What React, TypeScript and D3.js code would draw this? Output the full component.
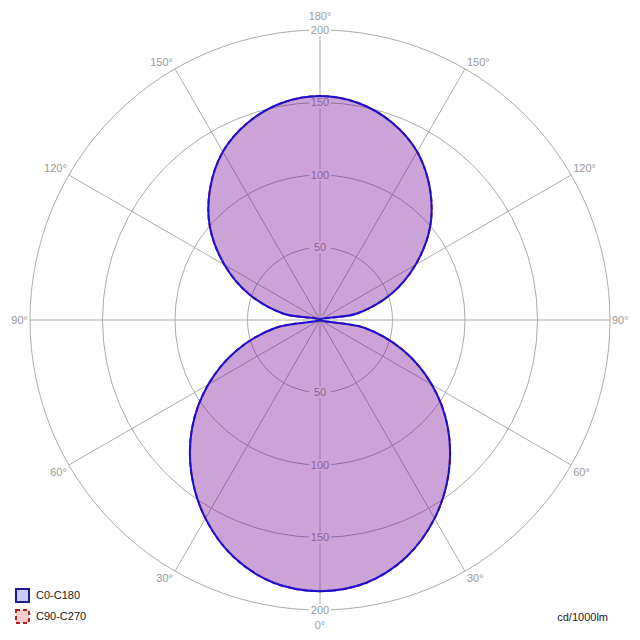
import React from "react";
import * as d3 from "d3";

// gamma angles (deg, 0 = straight down / nadir)
const gammas = [0, 10, 20, 30, 40, 50, 60, 70, 80, 90, 100, 110, 120, 130, 140, 150, 160, 170, 180];
// cd/1000lm, C0-C180 plane
const c0c180 = [187, 184, 174, 158, 138, 115, 89, 61, 31, 0, 26, 52, 76, 99, 118, 134, 145, 152, 154.5];
// cd/1000lm, C90-C270 plane
const c90c270 = [187, 184, 174, 158, 138, 115, 89, 61, 31, 0, 26, 52, 76, 99, 118, 134, 145, 152, 154.5];

const ringValues = [50, 100, 150, 200];
const angleLabels = [0, 30, 60, 90, 120, 150, 180];
const legendItems = ["C0-C180", "C90-C270"];
const unitLabel = "cd/1000lm";

const W = 640, H = 640, cx = 320, cy = 320, R = 290;
const FONT = "'Liberation Sans', Arial, sans-serif";

export default function App() {
  const r = d3.scaleLinear().domain([0, 200]).range([0, R]);

  const buildPath = (vals: number[]) => {
    const pts: [number, number][] = [];
    // right side (C0 / C90): angle = PI - gamma
    gammas.forEach((g, i) => pts.push([Math.PI - (g * Math.PI) / 180, r(vals[i])]));
    // left side (C180 / C270): angle = PI + gamma, from 180 back to 0
    for (let i = gammas.length - 2; i >= 1; i--) {
      pts.push([Math.PI + (gammas[i] * Math.PI) / 180, r(vals[i])]);
    }
    return d3
      .lineRadial<[number, number]>()
      .angle((d) => d[0])
      .radius((d) => d[1])
      .curve(d3.curveCardinalClosed.tension(0))(pts) as string;
  };

  const pathA = buildPath(c0c180);
  const pathB = buildPath(c90c270);

  const spokes = d3.range(0, 360, 30);

  const gridColor = "#ababab";
  const labelColor = "#9a9a9a";

  return (
    <svg width={W} height={H} style={{ position: "absolute", left: 0, top: 0, background: "#fff" }}>
      <rect x={0} y={0} width={W} height={H} fill="#fff" />
      <g transform={`translate(${cx},${cy})`}>
        {ringValues.map((v) => (
          <circle key={v} r={r(v)} fill="none" stroke={gridColor} strokeWidth={1} />
        ))}
        {spokes.map((a) => {
          const rad = (a * Math.PI) / 180;
          return (
            <line
              key={a}
              x1={0}
              y1={0}
              x2={R * Math.sin(rad)}
              y2={R * Math.cos(rad)}
              stroke={gridColor}
              strokeWidth={1}
            />
          );
        })}
        {ringValues.map((v) =>
          [-1, 1].map((s) => (
            <g key={`${v}-${s}`}>
              <rect x={-11} y={s * r(v) - 6} width={22} height={12} fill="#fff" />
              <text
                x={0}
                y={s * r(v)}
                dy="0.36em"
                textAnchor="middle"
                fontFamily={FONT}
                fontSize={11}
                fill={labelColor}
              >
                {v}
              </text>
            </g>
          ))
        )}
        {angleLabels.map((g) => {
          const rad = (g * Math.PI) / 180;
          const px = R * Math.sin(rad);
          const py = R * Math.cos(rad);
          if (g === 0 || g === 180) {
            return (
              <text
                key={g}
                x={0}
                y={g === 0 ? py + 15 : py - 14}
                dy="0.36em"
                textAnchor="middle"
                fontFamily={FONT}
                fontSize={11}
                fill={labelColor}
              >
                {g}°
              </text>
            );
          }
          const dy = g < 90 ? 7 : g > 90 ? -7 : 0;
          return [-1, 1].map((s) => (
            <text
              key={`${g}-${s}`}
              x={s * (px + 2)}
              y={py + dy}
              dy="0.36em"
              textAnchor={s < 0 ? "end" : "start"}
              fontFamily={FONT}
              fontSize={11}
              fill={labelColor}
            >
              {g}°
            </text>
          ));
        })}
        <path d={pathB} fill="rgba(255,0,0,0.2)" stroke="none" />
        <path d={pathA} fill="rgba(0,0,255,0.2)" stroke="none" />
        <path d={pathB} fill="none" stroke="#c02020" strokeWidth={2} strokeDasharray="5,3" />
        <path d={pathA} fill="none" stroke="#1a0fd0" strokeWidth={2} strokeLinejoin="round" />
      </g>
      {legendItems.map((name, i) => (
        <g key={name} transform={`translate(16,${589 + i * 21})`}>
          <rect
            x={0}
            y={0}
            width={13}
            height={13}
            fill={i === 0 ? "#ccccff" : "#ffcccc"}
            stroke={i === 0 ? "#1a1a9a" : "#b22222"}
            strokeWidth={2}
            strokeDasharray={i === 0 ? undefined : "4,3"}
          />
          <text x={20} y={6.5} dy="0.36em" fontFamily={FONT} fontSize={11} fill="#222">
            {name}
          </text>
        </g>
      ))}
      <text x={608} y={617} dy="0.36em" textAnchor="end" fontFamily={FONT} fontSize={11} fill="#222">
        {unitLabel}
      </text>
    </svg>
  );
}
